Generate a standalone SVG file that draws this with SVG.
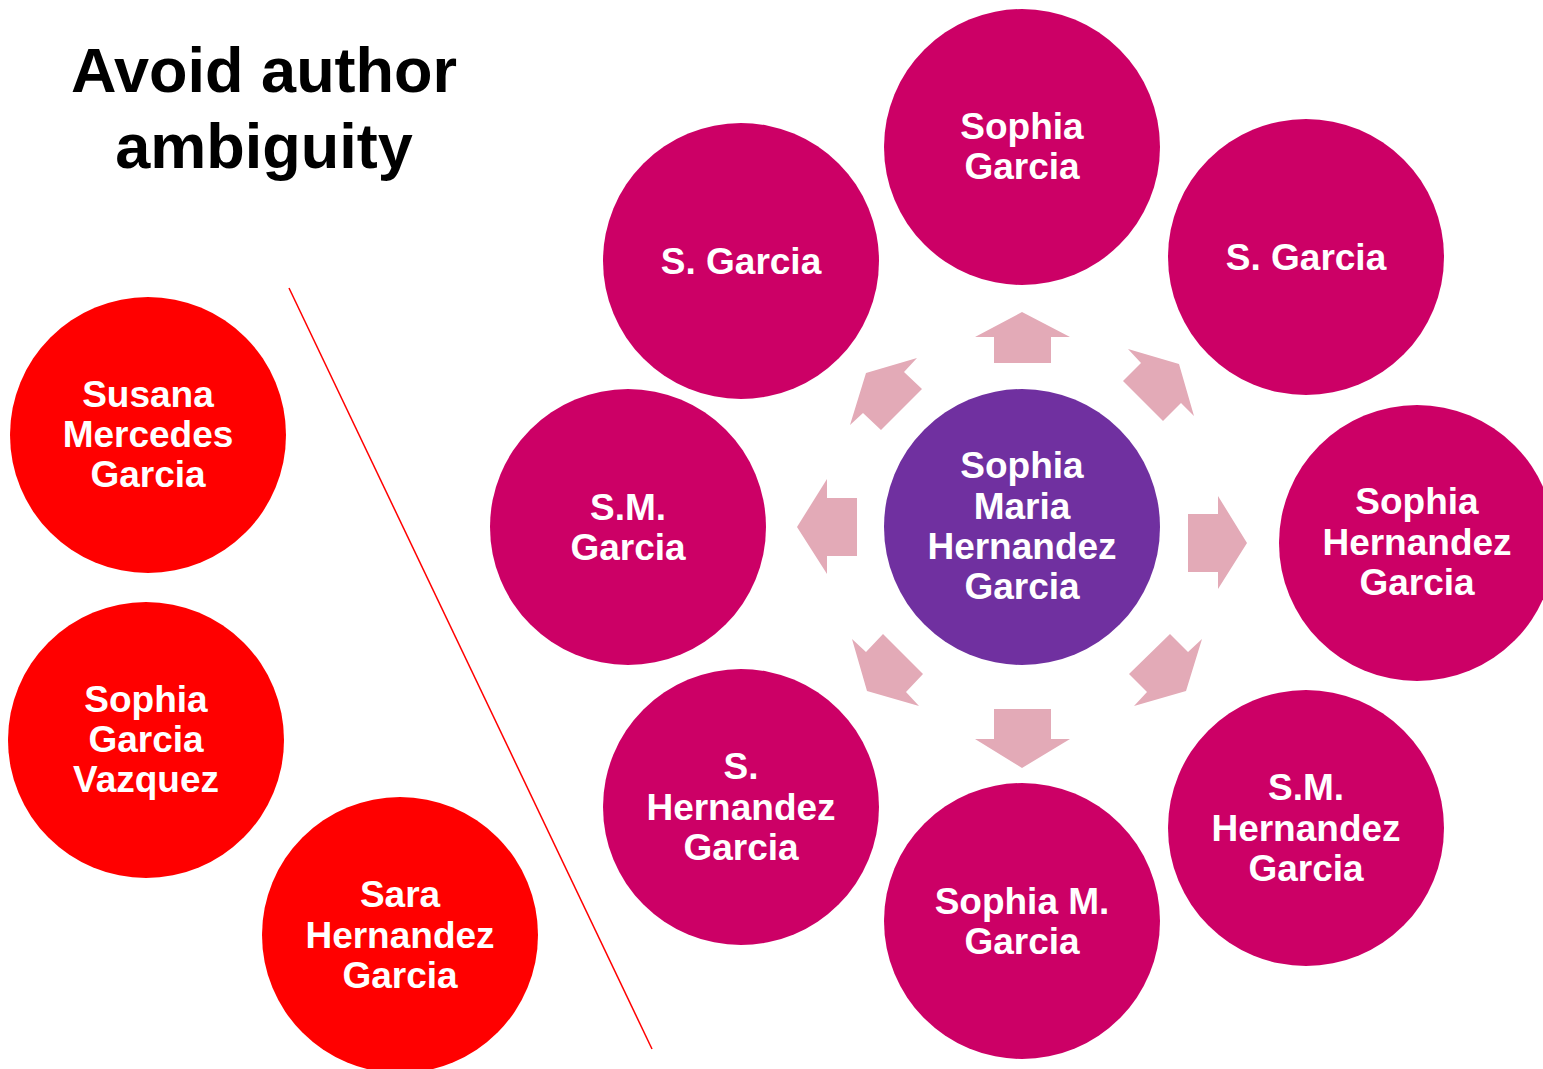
<svg xmlns="http://www.w3.org/2000/svg" width="1543" height="1069" viewBox="0 0 1543 1069">
  <style>
    .title { font-family: "Liberation Sans", Arial, sans-serif; font-weight: bold; font-size: 63px; fill: #000; text-anchor: middle; }
    .lbl { font-family: "Liberation Sans", Arial, sans-serif; font-weight: bold; font-size: 37px; fill: #fff; text-anchor: middle; }
    .variant { fill: #CC0066; }
    .core { fill: #7030A0; }
    .other { fill: #FF0000; }
    .arrow { fill: #E3AAB7; }
  </style>
  <rect width="1543" height="1069" fill="#fff"/>

  <g id="title">
    <text class="title" x="264" y="92">Avoid author</text>
    <text class="title" x="264" y="168">ambiguity</text>
  </g>

  <!-- divider between other people and name variants -->
  <line x1="289" y1="288" x2="652" y2="1049" stroke="#FF0000" stroke-width="1.5"/>

  <!-- other authors with similar names -->
  <g id="susana">
    <circle class="other" cx="148" cy="435" r="138"/>
    <text class="lbl" x="148"><tspan x="148" y="407">Susana</tspan><tspan x="148" y="447">Mercedes</tspan><tspan x="148" y="487">Garcia</tspan></text>
  </g>
  <g id="sophia-vazquez">
    <circle class="other" cx="146" cy="740" r="138"/>
    <text class="lbl"><tspan x="146" y="712">Sophia</tspan><tspan x="146" y="752">Garcia</tspan><tspan x="146" y="792">Vazquez</tspan></text>
  </g>
  <g id="sara">
    <circle class="other" cx="400" cy="935" r="138"/>
    <text class="lbl"><tspan x="400" y="907">Sara</tspan><tspan x="400" y="948">Hernandez</tspan><tspan x="400" y="988">Garcia</tspan></text>
  </g>

  <!-- connectors: arrows from the full name to each variant -->
  <g id="connectors">
    <polygon class="arrow" points="1022,312 1070,337 1051,337 1051,363 994,363 994,337 975,337"/>
    <polygon class="arrow" points="1022,768 1070,739 1051,739 1051,709 994,709 994,739 975,739"/>
    <polygon class="arrow" points="797,527 827,479 827,498 857,498 857,556 827,556 827,574"/>
    <polygon class="arrow" points="1247,543 1218,496 1218,514 1188,514 1188,572 1218,572 1218,589"/>
    <polygon class="arrow" points="866,373 917,358 904,372 922,389 881,430 863,413 850,425"/>
    <polygon class="arrow" points="1179,364 1194,416 1181,403 1163,421 1123,381 1141,363 1128,349"/>
    <polygon class="arrow" points="867,691 852,639 866,652 883,634 923,674 906,692 919,706"/>
    <polygon class="arrow" points="1186,691 1202,639 1188,652 1170,634 1129,674 1147,692 1134,706"/>
  </g>

  <g id="full-name">
    <circle class="core" cx="1022" cy="527" r="138"/>
    <text class="lbl"><tspan x="1022" y="478">Sophia</tspan><tspan x="1022" y="519">Maria</tspan><tspan x="1022" y="559">Hernandez</tspan><tspan x="1022" y="599">Garcia</tspan></text>
  </g>

  <!-- name variants -->
  <g id="v-top">
    <circle class="variant" cx="1022" cy="147" r="138"/>
    <text class="lbl"><tspan x="1022" y="139">Sophia</tspan><tspan x="1022" y="179">Garcia</tspan></text>
  </g>
  <g id="v-top-left">
    <circle class="variant" cx="741" cy="261" r="138"/>
    <text class="lbl" x="741" y="274">S. Garcia</text>
  </g>
  <g id="v-top-right">
    <circle class="variant" cx="1306" cy="257" r="138"/>
    <text class="lbl" x="1306" y="270">S. Garcia</text>
  </g>
  <g id="v-left">
    <circle class="variant" cx="628" cy="527" r="138"/>
    <text class="lbl"><tspan x="628" y="520">S.M.</tspan><tspan x="628" y="560">Garcia</tspan></text>
  </g>
  <g id="v-right">
    <circle class="variant" cx="1417" cy="543" r="138"/>
    <text class="lbl"><tspan x="1417" y="514">Sophia</tspan><tspan x="1417" y="555">Hernandez</tspan><tspan x="1417" y="595">Garcia</tspan></text>
  </g>
  <g id="v-bottom-left">
    <circle class="variant" cx="741" cy="807" r="138"/>
    <text class="lbl"><tspan x="741" y="779">S.</tspan><tspan x="741" y="820">Hernandez</tspan><tspan x="741" y="860">Garcia</tspan></text>
  </g>
  <g id="v-bottom">
    <circle class="variant" cx="1022" cy="921" r="138"/>
    <text class="lbl"><tspan x="1022" y="914">Sophia M.</tspan><tspan x="1022" y="954">Garcia</tspan></text>
  </g>
  <g id="v-bottom-right">
    <circle class="variant" cx="1306" cy="828" r="138"/>
    <text class="lbl"><tspan x="1306" y="800">S.M.</tspan><tspan x="1306" y="841">Hernandez</tspan><tspan x="1306" y="881">Garcia</tspan></text>
  </g>
</svg>
